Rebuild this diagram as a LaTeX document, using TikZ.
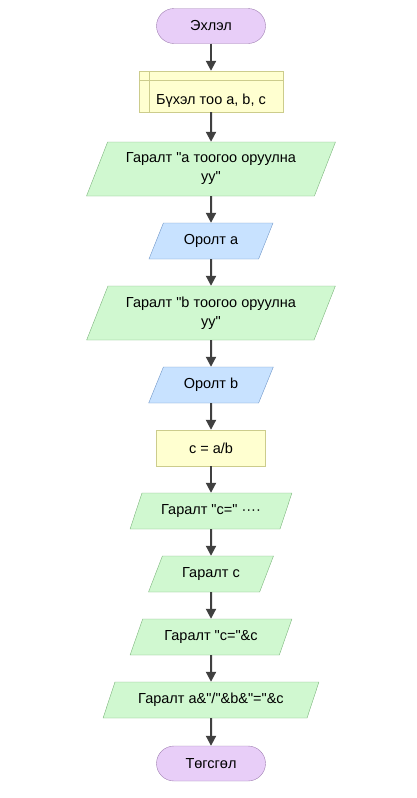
\documentclass[tikz,border=0pt]{standalone}
\usepackage{fontspec}
\newfontfamily\fuenteDiag{Liberation Sans}
\usepackage{tikz}
\usetikzlibrary{shapes.geometric, arrows.meta}
\definecolor{lilaRelleno}{RGB}{232,206,248}
\definecolor{lilaBorde}{RGB}{160,128,178}
\definecolor{amaRelleno}{RGB}{255,255,208}
\definecolor{amaBorde}{RGB}{204,204,140}
\definecolor{verdeRelleno}{RGB}{208,248,208}
\definecolor{verdeBorde}{RGB}{124,180,124}
\definecolor{azulRelleno}{RGB}{200,226,255}
\definecolor{azulBorde}{RGB}{112,150,200}
\definecolor{grisFlecha}{RGB}{64,64,64}
\tikzstyle{nodoTerm} = [rectangle, rounded corners=17.5pt, minimum width=109pt, minimum height=35pt, text centered, fill=lilaRelleno, draw=lilaBorde]
\tikzstyle{nodoProc} = [rectangle, minimum width=109pt, minimum height=36pt, text centered, fill=amaRelleno, draw=amaBorde]
\tikzstyle{nodoES} = [trapezium, trapezium left angle=65, trapezium right angle=115, trapezium stretches=true, minimum height=36pt, text centered, align=center]
\tikzstyle{nodoSal} = [nodoES, fill=verdeRelleno, draw=verdeBorde]
\tikzstyle{nodoEnt} = [nodoES, fill=azulRelleno, draw=azulBorde]
\tikzstyle{flecha} = [-{Triangle[length=10pt,width=10pt]}, line width=2pt, draw=grisFlecha]

\begin{document}
\begin{tikzpicture}[x=1pt, y=-1pt, font=\fuenteDiag\fontsize{14.5pt}{19pt}\selectfont]
    \useasboundingbox (0,0) rectangle (417,798);

    \node (Inicio) [nodoTerm] at (211,26) {Эхлэл};

    \node (Decl) [nodoProc, minimum width=144pt, minimum height=41pt, text height=26pt, text depth=1pt] at (211,91.5) {Бүхэл тоо a, b, c};
    \draw[amaBorde] ([yshift=-9.3pt]Decl.north west) -- ([yshift=-9.3pt]Decl.north east);
    \draw[amaBorde] ([xshift=10pt]Decl.north west) -- ([xshift=10pt]Decl.south west);

    \node (SalA) [nodoSal, minimum width=249pt, minimum height=54pt] at (211,169) {Гаралт "a тоогоо оруулна\\уу"};
    \node (EntA) [nodoEnt, minimum width=125pt] at (211,241) {Оролт a};

    \node (SalB) [nodoSal, minimum width=249pt, minimum height=54pt] at (211,313) {Гаралт "b тоогоо оруулна\\уу"};
    \node (EntB) [nodoEnt, minimum width=125pt] at (211,385) {Оролт b};

    \node (Calc) [nodoProc] at (211,448) {c = a/b};

    \node (SalC1) [nodoSal, minimum width=162pt] at (211,511) {Гаралт "c=" ····};
    \node (SalC2) [nodoSal, minimum width=125pt] at (211,574) {Гаралт c};
    \node (SalC3) [nodoSal, minimum width=162pt] at (211,637) {Гаралт "c="\&c};
    \node (SalTodo) [nodoSal, minimum width=216pt] at (211,700) {Гаралт a\&"/"\&b\&"="\&c};

    \node (Fin) [nodoTerm] at (211,763.5) {Төгсгөл};

    \draw[flecha] (Inicio) -- (Decl);
    \draw[flecha] (Decl) -- (SalA);
    \draw[flecha] (SalA) -- (EntA);
    \draw[flecha] (EntA) -- (SalB);
    \draw[flecha] (SalB) -- (EntB);
    \draw[flecha] (EntB) -- (Calc);
    \draw[flecha] (Calc) -- (SalC1);
    \draw[flecha] (SalC1) -- (SalC2);
    \draw[flecha] (SalC2) -- (SalC3);
    \draw[flecha] (SalC3) -- (SalTodo);
    \draw[flecha] (SalTodo) -- (Fin);
\end{tikzpicture}
\end{document}
